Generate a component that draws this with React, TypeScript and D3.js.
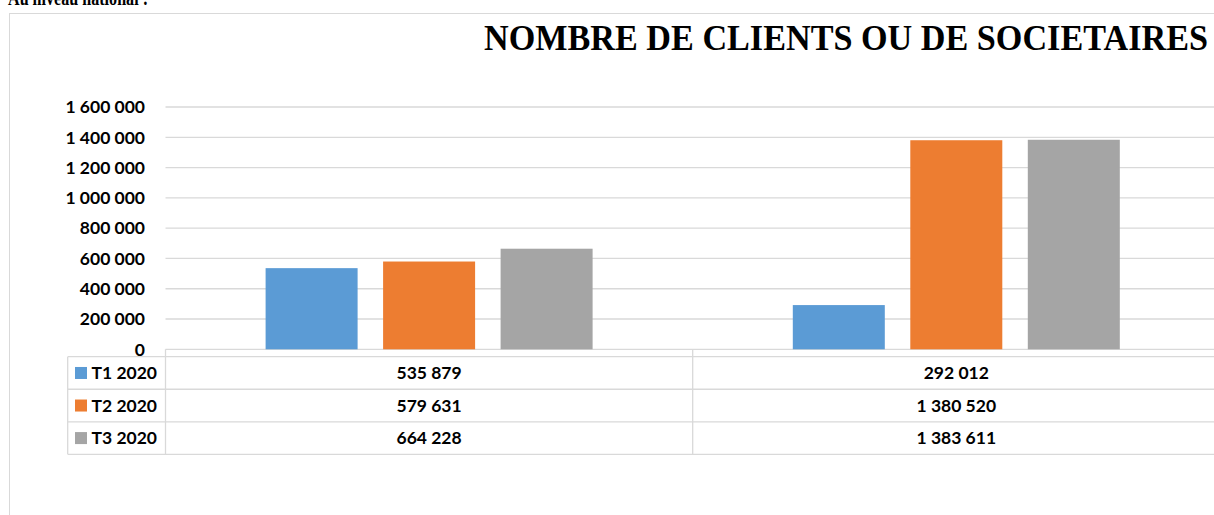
import React, { useEffect, useRef } from "react";
import * as d3 from "d3";

const categories = ["Catégorie 1", "Catégorie 2"];
const seriesNames = ["T1 2020", "T2 2020", "T3 2020"];
const t1Values = [535879, 292012];
const t2Values = [579631, 1380520];
const t3Values = [664228, 1383611];
const yTicks = [0, 200000, 400000, 600000, 800000, 1000000, 1200000, 1400000, 1600000];
const colors = ["#5B9BD5", "#ED7D31", "#A5A5A5"];
const titleText = "NOMBRE DE CLIENTS OU DE SOCIETAIRES";
const headingText = "Au niveau national :";

const W = 1214;
const H = 515;

export default function App() {
  const titleRef = useRef<SVGTextElement>(null);
  const series = [t1Values, t2Values, t3Values];
  const locale = d3.formatLocale({ decimal: ",", thousands: " ", grouping: [3], currency: ["", " €"] });
  const fmt = locale.format(",d");

  const plotLeft = 165.5;
  const plotRight = 1219.9;
  const y0 = 349.3;
  const yTop = 107;

  const x = d3.scaleBand<string>().domain(categories).range([plotLeft, plotRight]).padding(0);
  const inner = d3
    .scaleBand<string>()
    .domain(seriesNames)
    .range([-163.5, 163.5])
    .paddingInner(0.217)
    .paddingOuter(0);
  const y = d3.scaleLinear().domain([0, 1600000]).range([y0, yTop]);

  const tableTop = 356.7;
  const rowH = 32.55;
  const legendLeft = 67.7;
  const grid = "#D9D9D9";
  const font = "Lato, 'Noto Sans', sans-serif";

  const titleX = 484;
  const titleW = 724;

  useEffect(() => {
    const el = titleRef.current;
    if (!el) return;
    const natural = el.getComputedTextLength();
    if (natural > 0) {
      const s = titleW / natural;
      el.setAttribute("transform", `translate(${titleX},49.5) scale(${s},1)`);
    }
  }, []);

  return (
    <svg
      width={W}
      height={H}
      viewBox={`0 0 ${W} ${H}`}
      style={{ position: "absolute", left: 0, top: 0, background: "#fff" }}
    >
      <rect x={0} y={0} width={W} height={H} fill="#fff" />
      {/* cropped heading above chart */}
      <text
        x={8}
        y={5}
        fontFamily="'Liberation Serif', 'Times New Roman', serif"
        fontWeight="bold"
        fontSize={21}
        textLength={140}
        lengthAdjust="spacingAndGlyphs"
        fill="#000"
      >
        {headingText}
      </text>
      {/* chart frame */}
      <rect x={9.5} y={13.5} width={W + 20} height={H + 20} fill="none" stroke={grid} strokeWidth={1} />

      {/* title */}
      <text
        ref={titleRef}
        x={0}
        y={0}
        transform={`translate(${titleX},49.5) scale(0.92,1)`}
        fontFamily="'Liberation Serif', 'Times New Roman', serif"
        fontWeight="bold"
        fontSize={36}
        fill="#000"
      >
        {titleText}
      </text>

      {/* gridlines + y labels */}
      {yTicks.map((t) => (
        <g key={t}>
          <line x1={plotLeft} x2={plotRight} y1={y(t)} y2={y(t)} stroke={grid} strokeWidth={1.3} />
          <text
            x={145}
            y={y(t)}
            dy="0.36em"
            textAnchor="end"
            fontFamily={font}
            fontWeight="bold"
            fontSize={17.5}
            fill="#000"
          >
            {fmt(t)}
          </text>
        </g>
      ))}

      {/* bars */}
      {categories.map((c, ci) => {
        const cx = (x(c) as number) + x.bandwidth() / 2;
        return (
          <g key={c}>
            {seriesNames.map((s, si) => (
              <rect
                key={s}
                x={cx + (inner(s) as number)}
                y={y(series[si][ci])}
                width={inner.bandwidth()}
                height={y0 - y(series[si][ci])}
                fill={colors[si]}
              />
            ))}
          </g>
        );
      })}

      {/* data table */}
      <g>
        {[0, 1, 2, 3].map((r) => (
          <line
            key={r}
            x1={legendLeft}
            x2={plotRight}
            y1={tableTop + r * rowH}
            y2={tableTop + r * rowH}
            stroke={grid}
            strokeWidth={1.3}
          />
        ))}
        <line x1={legendLeft} x2={legendLeft} y1={tableTop} y2={tableTop + 3 * rowH} stroke={grid} strokeWidth={1.3} />
        {categories.map((c) => (
          <line
            key={c}
            x1={x(c) as number}
            x2={x(c) as number}
            y1={y0}
            y2={tableTop + 3 * rowH}
            stroke={grid}
            strokeWidth={1.3}
          />
        ))}
        <line x1={plotRight} x2={plotRight} y1={y0} y2={tableTop + 3 * rowH} stroke={grid} strokeWidth={1.3} />
        {seriesNames.map((s, si) => {
          const cy = tableTop + si * rowH + rowH / 2;
          return (
            <g key={s}>
              <rect x={75} y={cy - 6} width={12} height={12} fill={colors[si]} />
              <text
                x={91.5}
                y={cy}
                dy="0.36em"
                fontFamily={font}
                fontWeight="bold"
                fontSize={17.5}
                fill="#000"
              >
                {s}
              </text>
              {categories.map((c, ci) => (
                <text
                  key={c}
                  x={(x(c) as number) + x.bandwidth() / 2}
                  y={cy}
                  dy="0.36em"
                  textAnchor="middle"
                  fontFamily={font}
                  fontWeight="bold"
                  fontSize={17.5}
                  fill="#000"
                >
                  {fmt(series[si][ci])}
                </text>
              ))}
            </g>
          );
        })}
      </g>
    </svg>
  );
}
